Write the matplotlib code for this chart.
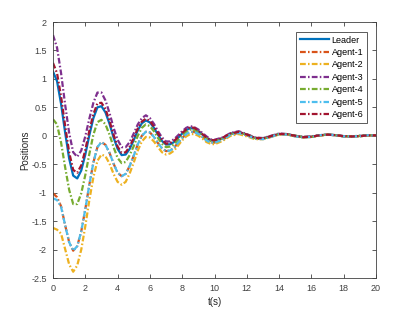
import numpy as np
from matplotlib import pyplot as plt

# time samples (s)
t = np.array([0, 0.25, 0.5, 0.75, 1, 1.25, 1.5, 1.75, 2, 2.25, 2.5, 2.75, 3, 3.25, 3.5, 3.75,
              4, 4.25, 4.5, 4.75, 5, 5.25, 5.5, 5.75, 6, 6.25, 6.5, 6.75, 7, 7.25, 7.5, 7.75,
              8, 8.25, 8.5, 8.75, 9, 9.25, 9.5, 9.75, 10, 10.5, 11, 11.5, 12, 12.5, 13, 13.5,
              14, 14.5, 15, 15.5, 16, 16.5, 17, 17.5, 18, 18.5, 19, 19.5, 20])

# positions
leader = [1.13, 0.96, 0.56, 0.06, -0.40, -0.70, -0.75, -0.61, -0.33, 0.01, 0.31, 0.50, 0.52, 0.41, 0.21, -0.03,
          -0.23, -0.34, -0.33, -0.23, -0.075, 0.095, 0.22, 0.27, 0.235, 0.14, 0.018, -0.093, -0.154, -0.15, -0.11, -0.035,
          0.04, 0.10, 0.134, 0.124, 0.08, 0.022, -0.037, -0.079, -0.09, -0.041, 0.038, 0.064, 0.020, -0.038, -0.046, -0.008,
          0.031, 0.028, -0.002, -0.024, -0.017, 0.007, 0.020, 0.011, -0.006, -0.012, -0.004, 0.006, 0.008]
agent1 = [-1.01, -1.08, -1.24, -1.57, -1.87, -2.02, -1.94, -1.68, -1.29, -0.86, -0.47, -0.20, -0.11, -0.16, -0.30, -0.49,
          -0.65, -0.71, -0.67, -0.53, -0.35, -0.15, 0.00, 0.07, 0.06, -0.02, -0.13, -0.22, -0.27, -0.26, -0.21, -0.12,
          -0.04, 0.03, 0.07, 0.07, 0.03, -0.02, -0.08, -0.12, -0.12, -0.07, 0.02, 0.05, 0.01, -0.05, -0.06, -0.02,
          0.03, 0.02, -0.01, -0.03, -0.02, 0.01, 0.02, 0.01, -0.01, -0.01, -0.01, 0.01, 0.01]
agent2 = [-1.62, -1.65, -1.72, -1.99, -2.26, -2.39, -2.28, -2.00, -1.59, -1.13, -0.73, -0.44, -0.33, -0.36, -0.49, -0.67,
          -0.81, -0.86, -0.81, -0.66, -0.47, -0.26, -0.10, -0.02, -0.03, -0.10, -0.20, -0.29, -0.33, -0.31, -0.26, -0.17,
          -0.08, -0.01, 0.03, 0.03, 0.00, -0.05, -0.11, -0.14, -0.15, -0.09, 0.00, 0.03, -0.01, -0.06, -0.06, -0.02,
          0.02, 0.02, -0.01, -0.03, -0.02, 0.00, 0.02, 0.01, -0.01, -0.01, -0.01, 0.00, 0.01]
agent3 = [1.77, 1.55, 1.10, 0.55, 0.05, -0.29, -0.37, -0.26, -0.01, 0.30, 0.58, 0.76, 0.76, 0.62, 0.40, 0.14,
          -0.07, -0.20, -0.20, -0.11, 0.04, 0.20, 0.31, 0.36, 0.31, 0.21, 0.08, -0.03, -0.10, -0.10, -0.06, 0.01,
          0.08, 0.14, 0.17, 0.15, 0.11, 0.05, -0.01, -0.06, -0.07, -0.03, 0.05, 0.08, 0.03, -0.03, -0.04, 0.00,
          0.04, 0.03, 0.00, -0.02, -0.01, 0.01, 0.02, 0.01, -0.01, -0.01, 0.00, 0.01, 0.01]
agent4 = [0.29, 0.20, -0.12, -0.55, -0.95, -1.20, -1.20, -1.01, -0.69, -0.32, 0.02, 0.24, 0.28, 0.20, 0.02, -0.20,
          -0.39, -0.48, -0.46, -0.34, -0.18, 0.00, 0.14, 0.20, 0.17, 0.08, -0.04, -0.14, -0.20, -0.19, -0.15, -0.07,
          0.01, 0.07, 0.11, 0.10, 0.06, 0.01, -0.05, -0.09, -0.10, -0.05, 0.03, 0.06, 0.02, -0.04, -0.05, -0.01,
          0.03, 0.03, 0.00, -0.02, -0.02, 0.01, 0.02, 0.01, -0.01, -0.01, 0.00, 0.01, 0.01]
agent5 = [-1.10, -1.13, -1.25, -1.57, -1.87, -2.02, -1.94, -1.68, -1.29, -0.86, -0.47, -0.20, -0.11, -0.16, -0.30, -0.49,
          -0.65, -0.71, -0.67, -0.53, -0.35, -0.15, 0.00, 0.07, 0.06, -0.02, -0.13, -0.22, -0.27, -0.26, -0.21, -0.12,
          -0.04, 0.03, 0.07, 0.07, 0.03, -0.02, -0.08, -0.12, -0.12, -0.07, 0.02, 0.05, 0.01, -0.05, -0.06, -0.02,
          0.03, 0.02, -0.01, -0.03, -0.02, 0.01, 0.02, 0.01, -0.01, -0.01, -0.01, 0.01, 0.01]
agent6 = [1.28, 1.10, 0.69, 0.18, -0.29, -0.60, -0.65, -0.52, -0.25, 0.09, 0.38, 0.57, 0.58, 0.47, 0.26, 0.02,
          -0.19, -0.30, -0.29, -0.19, -0.04, 0.13, 0.25, 0.30, 0.26, 0.16, 0.04, -0.07, -0.14, -0.13, -0.09, -0.02,
          0.05, 0.11, 0.15, 0.14, 0.09, 0.03, -0.03, -0.07, -0.08, -0.035, 0.043, 0.068, 0.023, -0.035, -0.044, -0.006,
          0.033, 0.029, -0.001, -0.023, -0.016, 0.008, 0.020, 0.011, -0.006, -0.012, -0.004, 0.006, 0.008]

names = ['Agent-1', 'Agent-2', 'Agent-3', 'Agent-4', 'Agent-5', 'Agent-6']
agents = [agent1, agent2, agent3, agent4, agent5, agent6]
colors = ['#D95319', '#EDB120', '#7E2F8E', '#77AC30', '#4DBEEE', '#A2142F']

plt.rcParams['font.family'] = ['Liberation Sans', 'DejaVu Sans']
plt.rcParams['axes.unicode_minus'] = False
gray = '#404040'

fig = plt.figure(figsize=(4.15, 3.12), dpi=100)
ax = fig.add_axes([53/415., 34/312., 323/415., 256/312.])

ax.plot(t, leader, color='#0072BD', lw=1.6, label='Leader')
for i in range(6):
    ax.plot(t, agents[i], color=colors[i], lw=1.6, dashes=(2.6, 1.0, 0.7, 1.0), label=names[i])

ax.set_xlim(0, 20)
ax.set_ylim(-2.5, 2)
ax.set_xticks(np.arange(0, 21, 2))
ax.set_yticks(np.arange(-2.5, 2.01, 0.5))
ax.set_yticklabels(['-2.5', '-2', '-1.5', '-1', '-0.5', '0', '0.5', '1', '1.5', '2'])
ax.tick_params(direction='in', length=3, width=0.6, top=True, right=True,
               labelsize=6.5, colors=gray, pad=4.5)
for s in ax.spines.values():
    s.set_color(gray)
    s.set_linewidth(0.6)
ax.set_xlabel('t(s)', fontsize=7, color='#262626', labelpad=2.5)
ax.set_ylabel('Positions', fontsize=7, color='#262626', labelpad=0.5)

leg = ax.legend(loc='upper right', bbox_to_anchor=(367/415., 1 - 32/312.), bbox_transform=fig.transFigure,
                borderaxespad=0, fontsize=6.5, handlelength=3.2, handletextpad=0.3, labelspacing=0.38,
                borderpad=0.4, fancybox=False, framealpha=1)
leg.get_frame().set_edgecolor(gray)
leg.get_frame().set_linewidth(0.6)

plt.savefig('out.png', dpi=100)
